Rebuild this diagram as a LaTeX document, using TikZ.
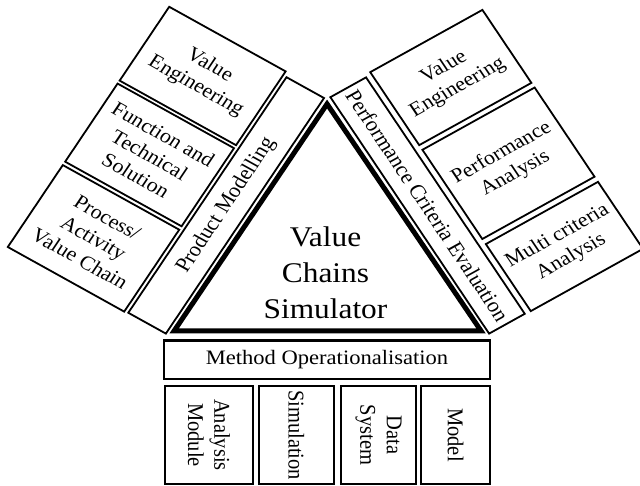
\documentclass[tikz,border=0pt]{standalone}
\usepackage{fontspec}
\setmainfont{Liberation Serif}
\begin{document}
\begin{tikzpicture}[x=1pt,y=-1pt,xscale=1.1,transform shape,
  sidebox/.style={draw,line width=1.8pt,inner sep=1pt,align=center,font=\fontsize{20}{24}\selectfont},
  bandbox/.style={draw,line width=1.8pt,inner sep=1pt,align=center,font=\fontsize{20.5}{24}\selectfont},
  basebox/.style={draw,line width=2.2pt,inner sep=1pt,align=center,font=\fontsize{20.5}{24}\selectfont}]
\useasboundingbox (0,0) rectangle (581.82,486);
% central triangle
\coordinate (tA) at (297.3,104);
\coordinate (tB) at (158.2,331);
\coordinate (tC) at (437.3,331);
\draw[line width=5pt] (tA) -- (tB) -- (tC) -- cycle;
\node[font=\fontsize{28.5}{36}\selectfont,align=center] (sim) at (295.9,272.7) {Value\\Chains\\Simulator};
% left side
\node[bandbox,minimum width=276,minimum height=40,rotate=58.6] (pm) at (205.6,205.4) {Product Modelling};
\node[sidebox,minimum width=124,minimum height=86.5,rotate=-31.4] (lve) at (184.22,76.01) {Value\\Engineering};
\node[sidebox,minimum width=124,minimum height=91.5,rotate=-31.4] (lft) at (135.98,154.94) {Function and\\Technical\\Solution};
\node[sidebox,minimum width=124,minimum height=96,rotate=-31.4] (lpa) at (85.01,238.35) {Process/\\Activity\\Value Chain};
% right side
\node[bandbox,minimum width=277,minimum height=38,rotate=-58.6] (pce) at (388.7,205.5) {Performance Criteria Evaluation};
\node[sidebox,minimum width=119.5,minimum height=85.5,rotate=31.4] (rve) at (409.83,77.52) {Value\\Engineering};
\node[sidebox,minimum width=119.5,minimum height=104.5,rotate=31.4] (rpa) at (462.24,163.27) {Performance\\Analysis};
\node[sidebox,minimum width=119.5,minimum height=78.5,rotate=31.4] (rmc) at (513.09,246.47) {Multi criteria\\Analysis};
% bottom
\node[basebox,minimum width=296.4,minimum height=38.5] (mo) at (297.3,359.75) {Method Operationalisation};
\node[basebox,minimum width=98,minimum height=80,rotate=-90] (am) at (190,435) {Analysis\\Module};
\node[basebox,minimum width=98,minimum height=68,rotate=-90] (si) at (269.5,435) {Simulation};
\node[basebox,minimum width=98,minimum height=68.2,rotate=-90] (ds) at (344.1,435) {Data\\System};
\node[basebox,minimum width=98,minimum height=62.8,rotate=-90] (mdl) at (414.1,435) {Model};
\end{tikzpicture}
\end{document}
